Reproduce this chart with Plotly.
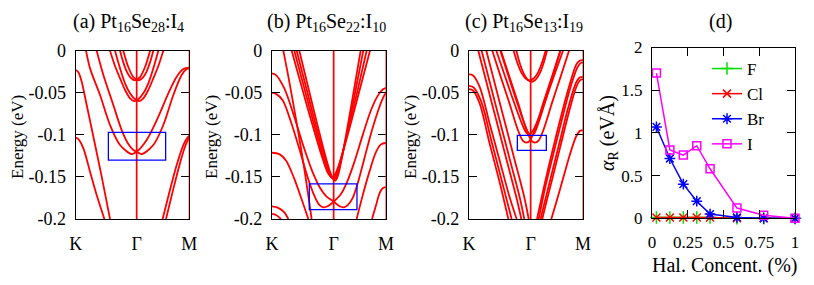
import plotly.graph_objects as go

W, H = 814, 285
OFF = 8                      # default page margin of the browser body
FW, FH = W - OFF, H - OFF    # figure size that fits the window

# ---------------- Panel (a) Pt16Se28:I4 : bands (k path K-Γ-M, Γ=1) ----------------
KM_A = 1.863
bands_a = [
    ([0.169, 0.235, 0.399, 0.563, 0.727, 0.918, 1.0, 1.164, 1.355, 1.519, 1.656, 1.765, 1.863],
     [0.0, -0.021, -0.0527, -0.0883, -0.112, -0.1228, -0.120, -0.106, -0.0784, -0.0507, -0.0309, -0.0218, -0.0202]),
    ([0.344, 0.454, 0.617, 0.754, 0.863, 0.945, 1.0, 1.082, 1.273, 1.437, 1.601, 1.738, 1.820, 1.863],
     [0.0, -0.0289, -0.0646, -0.0943, -0.1109, -0.118, -0.120, -0.1228, -0.1121, -0.0883, -0.0527, -0.0289, -0.0218, -0.021]),
    ([0.563, 0.645, 0.727, 0.809, 0.891, 0.956, 1.027, 1.109, 1.191, 1.273, 1.355],
     [0.0, -0.0182, -0.0329, -0.0467, -0.0566, -0.0598, -0.0578, -0.0507, -0.0388, -0.021, 0.0]),
    ([0.645, 0.727, 0.809, 0.891, 0.973, 1.044, 1.109, 1.191, 1.273, 1.355, 1.437],
     [0.0, -0.021, -0.0388, -0.0507, -0.0578, -0.0598, -0.0566, -0.0467, -0.0329, -0.0182, 0.0]),
    ([0.727, 0.781, 0.836, 0.891, 0.973, 1.055, 1.137, 1.219],
     [0.0, -0.0139, -0.0246, -0.0313, -0.0352, -0.0313, -0.0194, 0.0]),
    ([0.781, 0.863, 0.945, 1.027, 1.109, 1.164, 1.219, 1.273],
     [0.0, -0.0194, -0.0313, -0.0352, -0.0313, -0.0246, -0.0139, 0.0]),
    ([0.0, 0.044, 0.098, 0.180, 0.290, 0.426, 0.563],
     [-0.0230, -0.0257, -0.0368, -0.0646, -0.1022, -0.1497, -0.2]),
    ([0.0, 0.044, 0.126, 0.235, 0.344, 0.470],
     [-0.1034, -0.105, -0.116, -0.1438, -0.1715, -0.2]),
    ([1.426, 1.546, 1.656, 1.765, 1.831, 1.863],
     [-0.2, -0.1655, -0.1358, -0.1121, -0.1034, -0.101]),
    ([1.481, 1.590, 1.699, 1.792, 1.847, 1.863],
     [-0.2, -0.1675, -0.1366, -0.1141, -0.1049, -0.1022]),
]
box_a_k = [0.536, 1.475]
box_a_E = [-0.130, -0.097]

# ---------------- Panel (b) Pt16Se22:I10 ----------------
KM_B = 1.849
bands_b = [
    ([0, 0.065, 0.173, 0.308, 0.443, 0.578, 0.686, 0.768, 0.832, 0.903, 1.0, 1.119, 1.227, 1.335, 1.470, 1.605, 1.714, 1.795, 1.849],
     [-0.0501, -0.0513, -0.0588, -0.0847, -0.1165, -0.1503, -0.1722, -0.1833, -0.1861, -0.1849, -0.1793, -0.1702, -0.1543, -0.1324, -0.1006, -0.0708, -0.0537, -0.0461, -0.0441]),
    ([0, 0.065, 0.200, 0.362, 0.524, 0.659, 0.773, 0.881, 1.0, 1.097, 1.168, 1.232, 1.314, 1.395, 1.497, 1.605, 1.714, 1.795, 1.849],
     [-0.0270, -0.0290, -0.0449, -0.0787, -0.1165, -0.1443, -0.1622, -0.1730, -0.1793, -0.1849, -0.1861, -0.1833, -0.1742, -0.1563, -0.1284, -0.0986, -0.0728, -0.0569, -0.0497]),
    ([0.184, 0.281, 0.416, 0.524, 0.643],
     [0.0, -0.0370, -0.0926, -0.1404, -0.2]),
    ([0, 0.119, 0.227, 0.362, 0.497, 0.589],
     [-0.1213, -0.1229, -0.1304, -0.1523, -0.1801, -0.2]),
    ([0, 0.092, 0.200, 0.265],
     [-0.1849, -0.1865, -0.1920, -0.2]),
    ([0, 0.065, 0.146],
     [-0.1940, -0.1952, -0.2]),
    ([1.849, 1.768, 1.686, 1.578, 1.470, 1.373],
     [-0.1097, -0.1113, -0.1205, -0.1443, -0.1722, -0.2]),
    ([1.849, 1.795, 1.741, 1.686, 1.622],
     [-0.1622, -0.1634, -0.1702, -0.1841, -0.2]),
    ([0.319, 0.481, 0.646, 0.811, 0.908, 0.973, 1.032, 1.127, 1.281, 1.435, 1.589],
     [0.0, -0.0429, -0.0855, -0.1260, -0.1455, -0.1507, -0.1455, -0.1260, -0.0855, -0.0429, 0.0]),
    ([0.362, 0.519, 0.676, 0.832, 0.924, 0.989, 1.043, 1.124, 1.262, 1.400, 1.535],
     [0.0, -0.0433, -0.0863, -0.1268, -0.1467, -0.1519, -0.1467, -0.1268, -0.0863, -0.0433, 0.0]),
    ([0.400, 0.553, 0.705, 0.858, 0.949, 1.011, 1.058, 1.128, 1.246, 1.364, 1.481],
     [0.0, -0.0437, -0.0870, -0.1280, -0.1477, -0.1531, -0.1477, -0.1280, -0.0870, -0.0437, 0.0]),
    ([0.443, 0.589, 0.735, 0.881, 0.969, 1.027, 1.068, 1.130, 1.232, 1.335, 1.438],
     [0.0, -0.0441, -0.0876, -0.1290, -0.1489, -0.1543, -0.1489, -0.1290, -0.0876, -0.0441, 0.0]),
]
box_b_k = [0.605, 1.378]
box_b_E = [-0.1889, -0.1583]

# ---------------- Panel (c) Pt16Se13:I19 ----------------
KM_C = 1.849
bands_c = [
    ([0.724, 0.789, 0.854, 0.919, 0.984, 1.049, 1.114, 1.178, 1.243],
     [0.0, -0.0155, -0.0266, -0.0330, -0.0354, -0.0330, -0.0266, -0.0155, 0.0]),
    ([0.768, 0.830, 0.892, 0.954, 1.016, 1.078, 1.141, 1.203, 1.265],
     [0.0, -0.0163, -0.0278, -0.0346, -0.0370, -0.0346, -0.0278, -0.0163, 0.0]),
    ([0.443, 0.576, 0.708, 0.841, 0.919, 0.973, 1.027, 1.111, 1.249, 1.386, 1.524],
     [0.0, -0.0286, -0.0569, -0.0835, -0.0962, -0.0998, -0.0962, -0.0835, -0.0569, -0.0286, 0.0]),
    ([0.508, 0.635, 0.762, 0.889, 0.965, 1.016, 1.063, 1.132, 1.249, 1.365, 1.481],
     [0.0, -0.0290, -0.0577, -0.0847, -0.0978, -0.1014, -0.0978, -0.0847, -0.0577, -0.0290, 0.0]),
    ([0.378, 0.516, 0.654, 0.792, 0.875, 0.930, 0.985, 1.068, 1.205, 1.343, 1.481],
     [0.0, -0.0314, -0.0620, -0.0940, -0.1072, -0.1093, -0.1072, -0.0940, -0.0620, -0.0314, 0.0]),
    ([0.519, 0.657, 0.795, 0.932, 1.015, 1.070, 1.125, 1.208, 1.346, 1.484, 1.622],
     [0.0, -0.0314, -0.0620, -0.0940, -0.1072, -0.1093, -0.1072, -0.0940, -0.0620, -0.0314, 0.0]),
    ([0, 0.076, 0.200, 0.362, 0.524, 0.692],
     [-0.0417, -0.0437, -0.0608, -0.1066, -0.1523, -0.2]),
    ([0, 0.065, 0.173, 0.335, 0.497, 0.638],
     [-0.0457, -0.0473, -0.0628, -0.1105, -0.1563, -0.2]),
    ([0, 0.065, 0.173, 0.335, 0.497, 0.659, 0.773],
     [-0.0282, -0.0294, -0.0429, -0.0867, -0.1304, -0.1742, -0.2]),
    ([0.151, 0.281, 0.443, 0.605, 0.768, 0.849],
     [0.0, -0.0370, -0.0827, -0.1284, -0.1742, -0.2]),
    ([0.205, 0.335, 0.497, 0.659, 0.822, 0.897],
     [0.0, -0.0370, -0.0827, -0.1284, -0.1742, -0.2]),
    ([0.281, 0.411, 0.573, 0.735, 0.897, 0.968],
     [0.0, -0.0370, -0.0827, -0.1284, -0.1742, -0.2]),
    ([1.849, 1.805, 1.741, 1.632, 1.524, 1.416, 1.335],
     [-0.0946, -0.0950, -0.1014, -0.1245, -0.1523, -0.1801, -0.2]),
    ([1.849, 1.795, 1.730, 1.605, 1.470, 1.335, 1.200, 1.162],
     [-0.0310, -0.0318, -0.0390, -0.0688, -0.1085, -0.1483, -0.1881, -0.2]),
    ([1.849, 1.805, 1.741, 1.622, 1.486, 1.351, 1.227, 1.189],
     [-0.0338, -0.0350, -0.0429, -0.0728, -0.1125, -0.1523, -0.1881, -0.2]),
    ([1.849, 1.795, 1.741, 1.622, 1.497, 1.362, 1.227, 1.103],
     [-0.0111, -0.0119, -0.0163, -0.0429, -0.0767, -0.1165, -0.1583, -0.2]),
    ([1.849, 1.805, 1.751, 1.632, 1.514, 1.378, 1.243, 1.130],
     [-0.0139, -0.0151, -0.0211, -0.0469, -0.0799, -0.1197, -0.1602, -0.2]),
]
box_c_k = [0.784, 1.254]
box_c_E = [-0.1185, -0.1006]

band_titles = ["(a) Pt<sub>16</sub>Se<sub>28</sub>:I<sub>4</sub>",
               "(b) Pt<sub>16</sub>Se<sub>22</sub>:I<sub>10</sub>",
               "(c) Pt<sub>16</sub>Se<sub>13</sub>:I<sub>19</sub>"]
e_ticks = [0, -0.05, -0.1, -0.15, -0.2]
e_ticktext = ["0", "-0.05", "-0.1", "-0.15", "-0.2"]

# ---------------- Panel (d) Rashba parameter ----------------
conc = [0.031, 0.125, 0.219, 0.313, 0.406, 0.594, 0.781, 1.0]
alpha_F = [0.01, 0.01, 0.01, 0.01, 0.01, 0.0, 0.0, 0.0]
alpha_Cl = [0.01, 0.01, 0.01, 0.01, 0.01, 0.0, 0.0, 0.0]
alpha_Br = [1.07, 0.70, 0.40, 0.20, 0.05, 0.01, 0.0, 0.0]
alpha_I = [1.70, 0.80, 0.74, 0.85, 0.58, 0.12, 0.035, 0.0]
d_xticks = [0, 0.25, 0.5, 0.75, 1]
d_xticktext = ["0", "0.25", "0.5", "0.75", "1"]
d_yticks = [0, 0.5, 1, 1.5, 2]
d_yticktext = ["0", "0.5", "1", "1.5", "2"]

FONT = "Liberation Serif"
RED = "#ff0000"
fig = go.Figure()

panels = [(bands_a, KM_A, box_a_k, box_a_E, "x", "y"),
          (bands_b, KM_B, box_b_k, box_b_E, "x2", "y2"),
          (bands_c, KM_C, box_c_k, box_c_E, "x3", "y3")]

shapes = []
for bands, km, bk, bE, xa, ya in panels:
    for k, E in bands:
        fig.add_trace(go.Scatter(x=k, y=E, mode="lines", xaxis=xa, yaxis=ya,
                                 line=dict(color=RED, width=1.8, shape="spline", smoothing=0.9),
                                 showlegend=False, hoverinfo="skip"))
    shapes.append(dict(type="line", xref=xa, yref=ya, x0=1, x1=1, y0=-0.2, y1=0,
                       line=dict(color=RED, width=1.7), layer="above"))
    shapes.append(dict(type="line", xref=xa, yref=ya, x0=km, x1=km, y0=-0.2, y1=0,
                       line=dict(color="rgba(255,0,0,0.45)", width=2), layer="above"))
    shapes.append(dict(type="rect", xref=xa, yref=ya, x0=bk[0], x1=bk[1], y0=bE[0], y1=bE[1],
                       line=dict(color="#0000ff", width=1.3), layer="above"))

series = [("F", alpha_F, "#00e000", "cross-thin", 9),
          ("Cl", alpha_Cl, "#ff0000", "x-thin", 8),
          ("Br", alpha_Br, "#0000ff", "asterisk-open", 9),
          ("I", alpha_I, "#ff00ff", "square-open", 8)]
for name, vals, col, sym, sz in series:
    fig.add_trace(go.Scatter(x=conc, y=vals, name=name, mode="lines+markers",
                             xaxis="x4", yaxis="y4", cliponaxis=False,
                             line=dict(color=col, width=1.5),
                             marker=dict(symbol=sym, size=sz, color=col,
                                         line=dict(color=col, width=1.5))))

def px_x(p):
    return (p - OFF) / FW

def px_y(p):
    return 1 - (p - OFF) / FH

ydom_band = [px_y(219), px_y(50.7)]
xdoms = [[px_x(75.7), px_x(189.3)], [px_x(272), px_x(386)], [px_x(469), px_x(583)]]

axis_common = dict(showline=True, linecolor="black", linewidth=1.2, mirror="allticks",
                   showgrid=False, zeroline=False, automargin=False,
                   tickfont=dict(family=FONT, size=18, color="black"))
layout = dict(template="none", width=FW, height=FH, margin=dict(l=0, r=0, t=0, b=0, pad=0),
              paper_bgcolor="white", plot_bgcolor="white", autosize=False,
              font=dict(family=FONT, size=17, color="black"), shapes=shapes)

for i, (bands, km, _, _, xa, ya) in enumerate(panels):
    xn = "xaxis" if i == 0 else f"xaxis{i+1}"
    yn = "yaxis" if i == 0 else f"yaxis{i+1}"
    layout[xn] = dict(axis_common, domain=xdoms[i], range=[0, km], tickvals=[0, 1, km],
                      ticktext=["K", "Γ", "M"], ticks="", anchor=ya, ticklabelstandoff=8)
    layout[yn] = dict(axis_common, domain=ydom_band, range=[-0.2, 0], tickvals=e_ticks,
                      ticktext=e_ticktext, ticks="inside", ticklen=8, tickcolor="black",
                      anchor=xa, ticklabelstandoff=5)

d_tickfont = dict(family=FONT, size=17, color="black")
layout["xaxis4"] = dict(axis_common, domain=[px_x(652), px_x(795)], range=[0, 1],
                        tickvals=d_xticks, ticktext=d_xticktext, ticks="inside", ticklen=8,
                        tickcolor="black", anchor="y4", ticklabelstandoff=8, tickfont=d_tickfont)
layout["yaxis4"] = dict(axis_common, domain=[px_y(218.3), px_y(47.5)], range=[0, 2],
                        tickvals=d_yticks, ticktext=d_yticktext, ticks="inside", ticklen=8,
                        tickcolor="black", anchor="x4", ticklabelstandoff=5, tickfont=d_tickfont)

layout["legend"] = dict(x=px_x(707), y=px_y(51), xanchor="left", yanchor="top",
                        bgcolor="rgba(0,0,0,0)", font=dict(family=FONT, size=17),
                        tracegroupgap=0, itemwidth=30)

ann = []
title_x = [128.5, 326.7, 524]
for t, xc in zip(band_titles, title_x):
    ann.append(dict(text=t, x=px_x(xc), y=px_y(22), xref="paper", yref="paper",
                    xanchor="center", yanchor="middle",
                    showarrow=False, font=dict(family=FONT, size=20)))
ann.append(dict(text="(d)", x=px_x(720), y=px_y(21), xref="paper", yref="paper",
                xanchor="center", yanchor="middle",
                showarrow=False, font=dict(family=FONT, size=20)))
for xc in [17, 211, 410]:
    ann.append(dict(text="Energy (eV)", x=px_x(xc), y=px_y(137), xref="paper", yref="paper",
                    xanchor="center", yanchor="middle",
                    showarrow=False, textangle=-90, font=dict(family=FONT, size=17)))
ann.append(dict(text="<i>α</i><sub>R</sub> (eVÅ)", x=px_x(609), y=px_y(133), xref="paper",
                yref="paper", xanchor="center", yanchor="middle",
                showarrow=False, textangle=-90, font=dict(family=FONT, size=20)))
ann.append(dict(text="Hal. Concent. (%)", x=px_x(725), y=px_y(265), xref="paper", yref="paper",
                xanchor="center", yanchor="middle",
                showarrow=False, font=dict(family=FONT, size=20)))
layout["annotations"] = ann

fig.update_layout(**layout)
fig.write_html("out.html")
